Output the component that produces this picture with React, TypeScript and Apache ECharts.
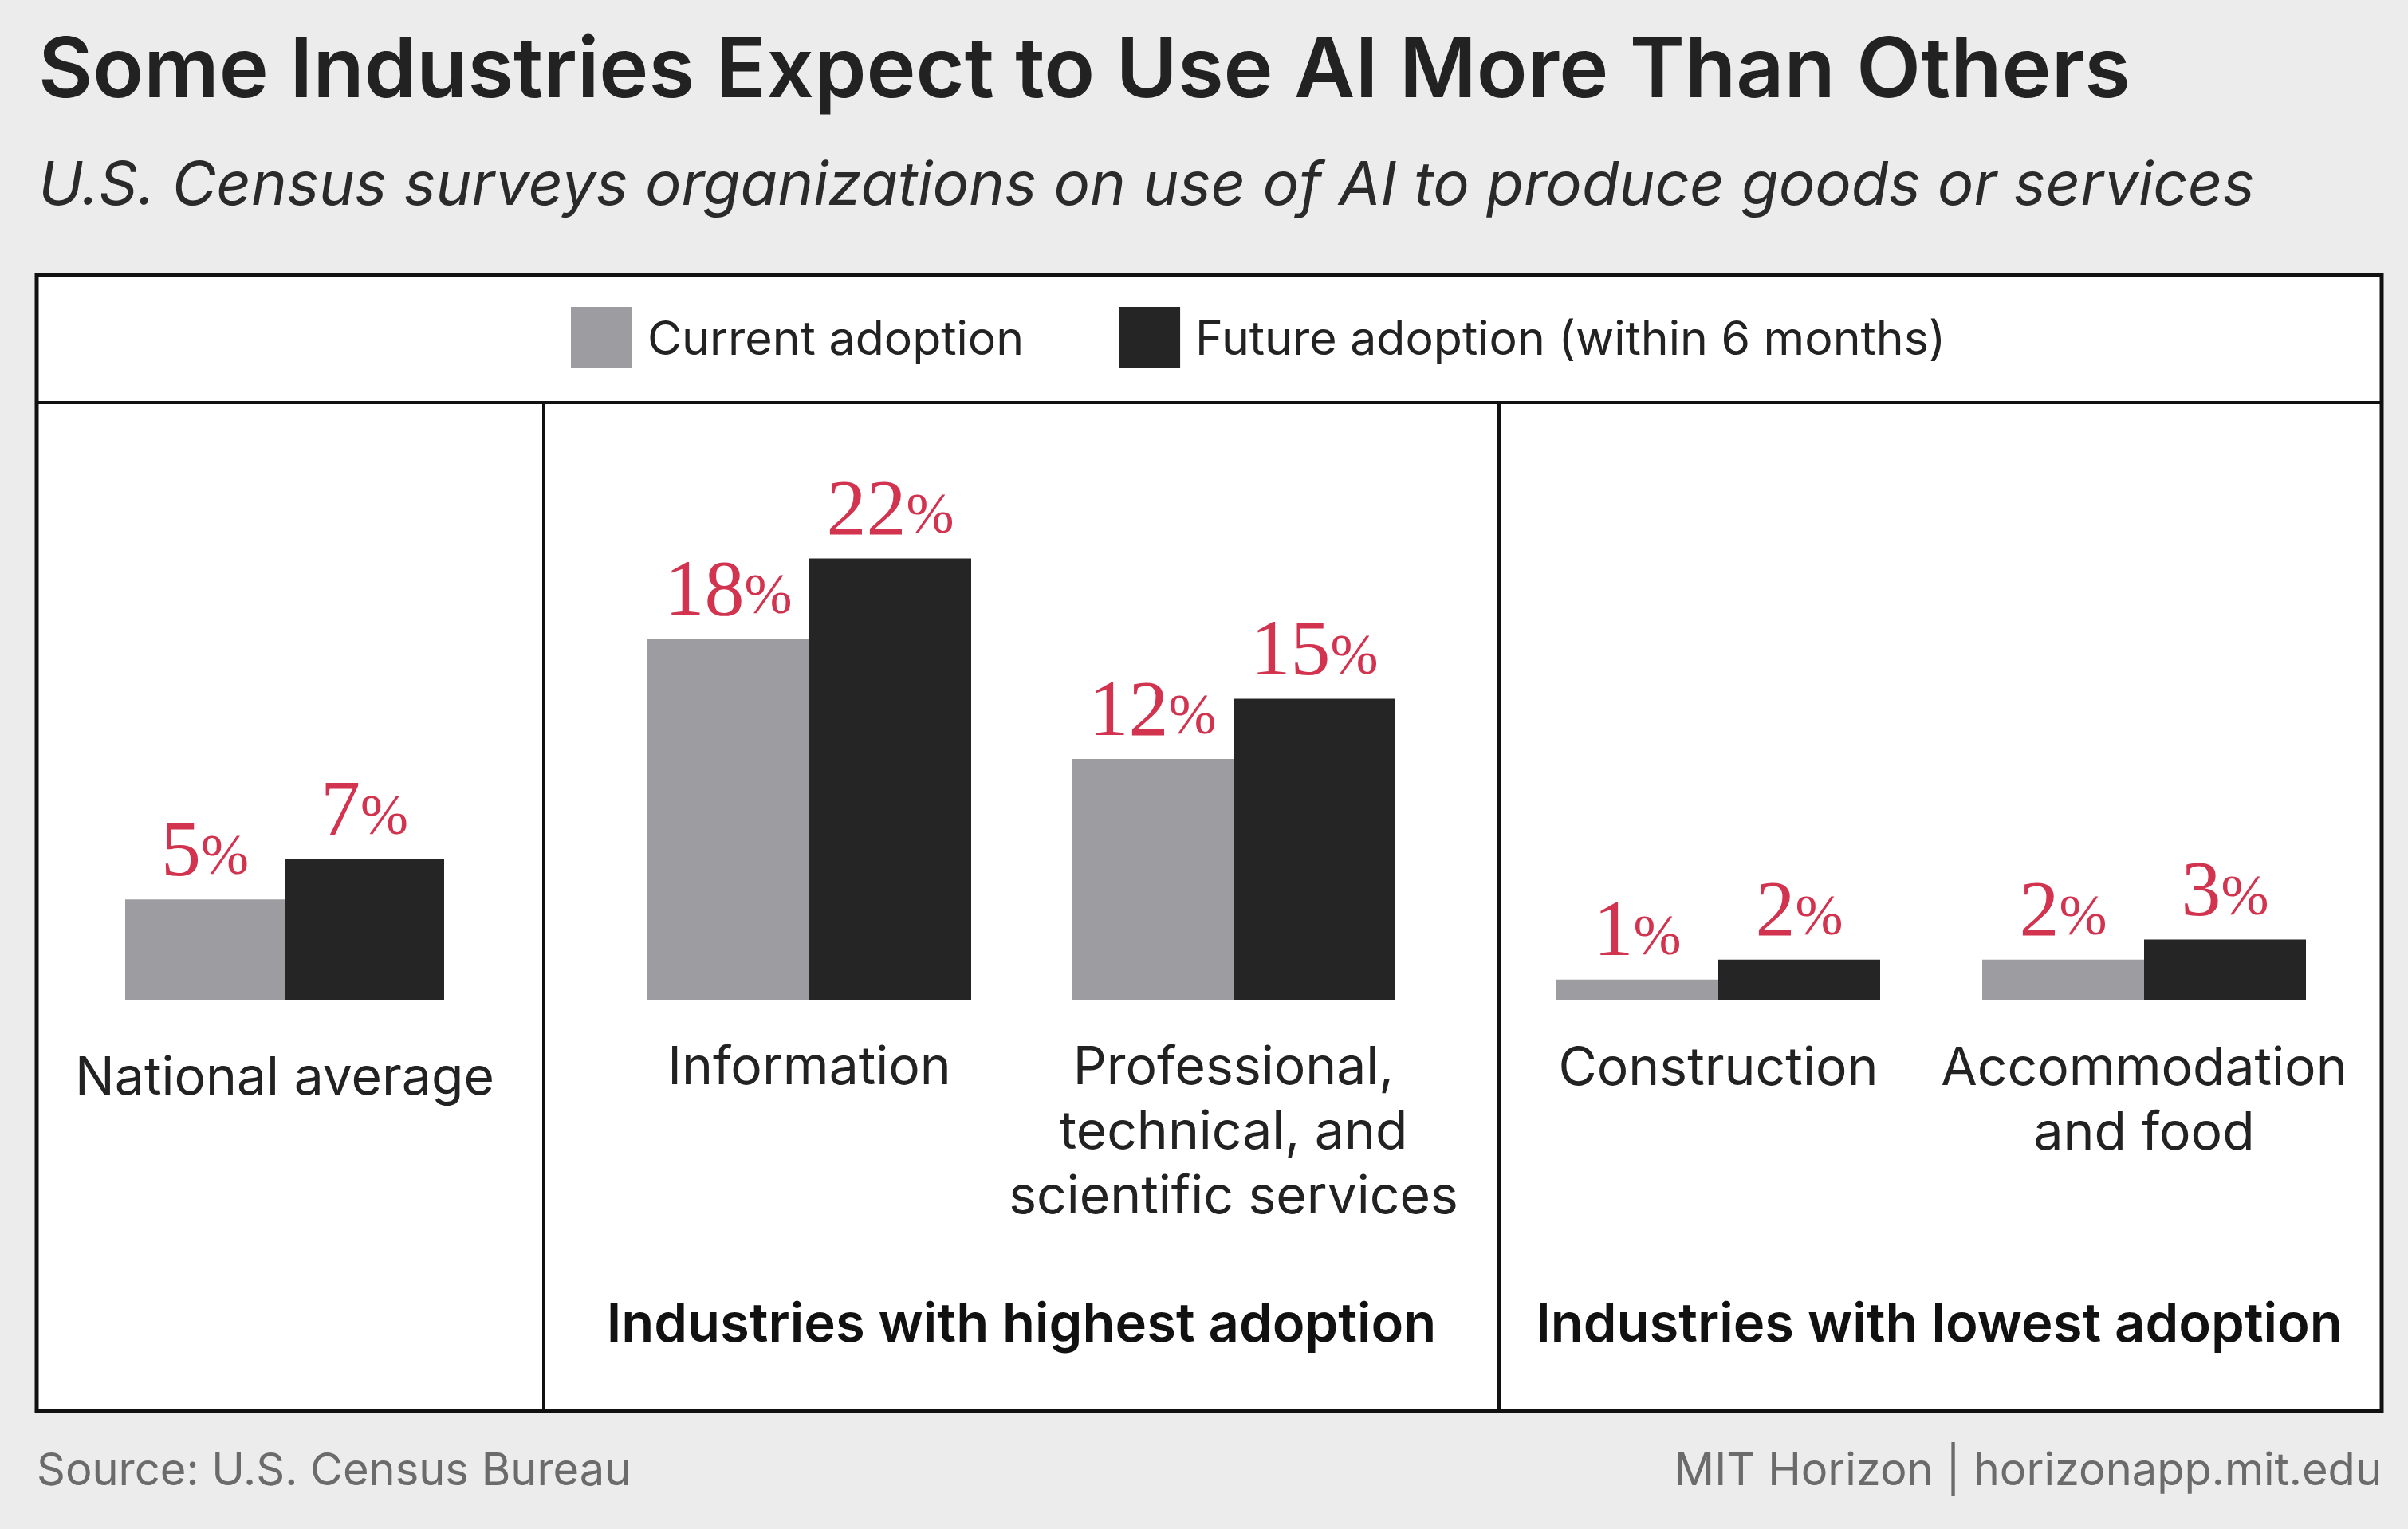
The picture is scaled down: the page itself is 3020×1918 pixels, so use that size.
import React, { useEffect, useRef } from 'react';
import * as echarts from 'echarts';

const categories = [
  'National average',
  'Information',
  'Professional,\ntechnical, and\nscientific services',
  'Construction',
  'Accommodation\nand food',
];
const currentAdoption = [5, 18, 12, 1, 2];
const futureAdoption = [7, 22, 15, 2, 3];
const panelIndexes = [[0], [1, 2], [3, 4]];
const groupLabels = ['', 'Industries with highest adoption', 'Industries with lowest adoption'];
const seriesNames = ['Current adoption', 'Future adoption (within 6 months)'];
const titleText = 'Some Industries Expect to Use AI More Than Others';
const subtitleText = 'U.S. Census surveys organizations on use of AI to produce goods or services';
const sourceText = 'Source: U.S. Census Bureau';
const creditText = 'MIT Horizon | horizonapp.mit.edu';

const W = 3020;
const H = 1918;
const SANS = 'Inter';
const SERIF = 'Liberation Serif';
const RED = '#d2334f';
const GRAY = '#9d9ca1';
const BLACK = '#252525';
const INK = '#222222';

export default function App() {
  const ref = useRef<HTMLDivElement>(null);

  useEffect(() => {
    document.body.style.margin = '0';
    document.body.style.background = '#ececec';
    const chart = echarts.init(ref.current!, null, { renderer: 'svg', width: W, height: H });

    const gridTop = 625;
    const gridHeight = 629;
    const grids = [
      { left: 157, width: 400, top: gridTop, height: gridHeight },
      { left: 749, width: 1064, top: gridTop, height: gridHeight },
      { left: 1888, width: 1068, top: gridTop, height: gridHeight },
    ];
    const labelMargins = [54, 41, 42];

    const xAxes = panelIndexes.map((idx, i) => ({
      type: 'category',
      gridIndex: i,
      data: idx.map((k) => categories[k]),
      axisLine: { show: false },
      axisTick: { show: false },
      axisLabel: {
        interval: 0,
        hideOverlap: false,
        margin: labelMargins[i],
        fontFamily: SANS,
        fontSize: 66,
        lineHeight: 81,
        color: INK,
        verticalAlign: 'top',
        align: 'center',
      },
    }));
    const yAxes = panelIndexes.map((_, i) => ({
      type: 'value',
      gridIndex: i,
      min: 0,
      max: 25,
      show: false,
      splitLine: { show: false },
    }));

    const label = {
      show: true,
      position: 'top',
      distance: 14,
      formatter: (p: any) => `{n|${p.value}}{p|%}`,
      rich: {
        n: { fontFamily: SERIF, fontSize: 100, lineHeight: 100, color: RED, verticalAlign: 'bottom' },
        p: { fontFamily: SERIF, fontSize: 72, lineHeight: 72, color: RED, verticalAlign: 'bottom', padding: [0, 0, 6, 0] },
      },
    };

    const series: any[] = [];
    panelIndexes.forEach((idx, i) => {
      series.push({
        name: seriesNames[0],
        type: 'bar',
        xAxisIndex: i,
        yAxisIndex: i,
        data: idx.map((k) => currentAdoption[k]),
        barWidth: 203,
        barGap: '0%',
        itemStyle: { color: GRAY },
        label,
        z: 5,
      });
      series.push({
        name: seriesNames[1],
        type: 'bar',
        xAxisIndex: i,
        yAxisIndex: i,
        data: idx.map((k) => futureAdoption[k]),
        barWidth: 203,
        barGap: '0%',
        itemStyle: { color: BLACK },
        label,
        z: 5,
      });
    });

    const boxL = 46, boxR = 2987, boxT = 345, boxB = 1770, legendLineY = 505;
    const dividers = [682, 1880];
    const groupCenters = [0, 1281, 2432];

    const graphic: any[] = [
      {
        type: 'rect',
        z: 0,
        shape: { x: boxL, y: boxT, width: boxR - boxL, height: boxB - boxT },
        style: { fill: '#ffffff', stroke: '#111111', lineWidth: 5 },
      },
      {
        type: 'line',
        z: 10,
        shape: { x1: boxL, y1: legendLineY, x2: boxR, y2: legendLineY },
        style: { stroke: '#111111', lineWidth: 4 },
      },
      ...dividers.map((x) => ({
        type: 'line',
        z: 10,
        shape: { x1: x, y1: legendLineY, x2: x, y2: boxB },
        style: { stroke: '#111111', lineWidth: 4 },
      })),
      {
        type: 'text',
        z: 10,
        x: 48,
        y: 83,
        style: { text: titleText, fontFamily: SANS, fontSize: 105, fontWeight: 600, fill: INK, textVerticalAlign: 'middle' },
      },
      {
        type: 'text',
        z: 10,
        x: 48,
        y: 229,
        style: { text: subtitleText, fontFamily: SANS, fontSize: 76, fontStyle: 'italic', fill: '#2a2a2a', textVerticalAlign: 'middle' },
      },
      ...groupLabels
        .map((t, i) => ({ t, i }))
        .filter((g) => g.t)
        .map((g) => ({
          type: 'text',
          z: 10,
          x: groupCenters[g.i],
          y: 1658,
          style: { text: g.t, fontFamily: SANS, fontSize: 67, fontWeight: 600, fill: '#111111', textAlign: 'center', textVerticalAlign: 'middle' },
        })),
      {
        type: 'text',
        z: 10,
        x: 46,
        y: 1843,
        style: { text: sourceText, fontFamily: SANS, fontSize: 56, fill: '#6b6b6b', textVerticalAlign: 'middle' },
      },
      {
        type: 'text',
        z: 10,
        x: 2987,
        y: 1843,
        style: { text: creditText, fontFamily: SANS, fontSize: 56, fill: '#6b6b6b', textAlign: 'right', textVerticalAlign: 'middle' },
      },
    ];

    chart.setOption({
      animation: false,
      backgroundColor: '#ececec',
      grid: grids,
      xAxis: xAxes,
      yAxis: yAxes,
      legend: {
        left: 711,
        top: 380,
        itemWidth: 77,
        itemHeight: 77,
        itemGap: 119,
        icon: 'rect',
        selectedMode: false,
        data: seriesNames,
        textStyle: { fontFamily: SANS, fontSize: 59, color: INK, padding: [0, 0, 0, 14] },
      },
      graphic,
      series,
    });

    return () => chart.dispose();
  }, []);

  return <div ref={ref} style={{ width: W, height: H }} />;
}
